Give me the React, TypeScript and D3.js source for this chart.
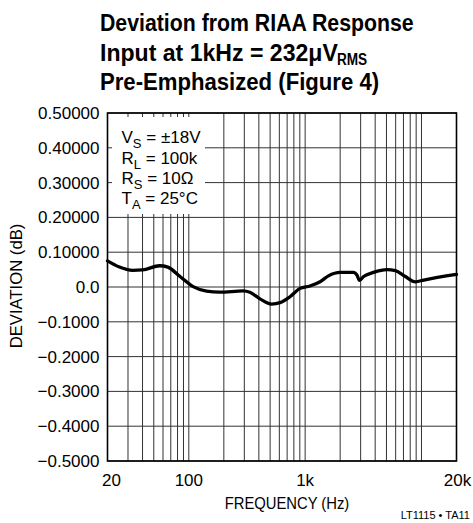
import React from "react";
import * as d3 from "d3";

const FREQS = [20, 25, 33, 40, 56, 66, 84, 109, 142, 185, 293, 335, 409, 515, 608, 741, 904, 1100, 1345, 1586, 2000, 2600, 2790, 2930, 3180, 3870, 5050, 5960, 7260, 8860, 10460, 20000];
const DEVIATION = [0.075, 0.058, 0.048, 0.049, 0.061, 0.057, 0.030, 0.001, -0.012, -0.015, -0.011, -0.015, -0.034, -0.049, -0.045, -0.028, -0.004, 0.003, 0.015, 0.032, 0.042, 0.042, 0.034, 0.019, 0.030, 0.042, 0.050, 0.047, 0.030, 0.015, 0.020, 0.036];

const Y_TICKS = [0.5, 0.4, 0.3, 0.2, 0.1, 0, -0.1, -0.2, -0.3, -0.4, -0.5];
const Y_TICK_LABELS = ["0.50000", "0.40000", "0.30000", "0.20000", "0.10000", "0.0", "\u22120.1000", "\u22120.2000", "\u22120.3000", "\u22120.4000", "\u22120.5000"];
const X_GRID = [30, 40, 50, 60, 70, 80, 90, 100, 200, 300, 400, 500, 600, 700, 800, 900, 1000, 2000, 3000, 4000, 5000, 6000, 7000, 8000, 9000, 10000];
const X_TICKS = [20, 100, 1000, 20000];
const X_TICK_LABELS = ["20", "100", "1k", "20k"];

const FONT = "'Liberation Sans', Arial, Helvetica, sans-serif";

export default function App() {
  const W = 473, H = 523;
  const x = d3.scaleLog().domain([20, 20000]).range([107.5, 456.5]);
  const y = d3.scaleLinear().domain([-0.5, 0.5]).range([461, 113]);
  const [x0, x1] = x.range();
  const [yb, yt] = y.range();
  const data = FREQS.map((f, i) => [f, DEVIATION[i]] as [number, number]);
  const line = d3.line<[number, number]>()
    .x(d => x(d[0]))
    .y(d => y(d[1]))
    .curve(d3.curveMonotoneX);

  return (
    <svg width={W} height={H} style={{ position: "absolute", left: 0, top: 0, background: "#fff" }}>
      <rect x={0} y={0} width={W} height={H} fill="#fff" />
      {/* Title */}
      <g fontFamily={FONT} fontWeight="bold" fontSize={24} fill="#000">
        <text transform="translate(100,31) scale(0.887,1)">Deviation from RIAA Response</text>
        <text transform="translate(100,61) scale(0.962,1)">Input at 1kHz = 232{"\u03bc"}V</text>
        <text transform="translate(337,64.5) scale(0.8,1)" fontSize={17}>RMS</text>
        <text transform="translate(100,90) scale(0.922,1)">Pre-Emphasized (Figure 4)</text>
      </g>
      {/* Grid */}
      <g stroke="#333" strokeWidth={1}>
        {Y_TICKS.map((t, i) => (
          <line key={"h" + i} x1={x0} x2={x1} y1={y(t)} y2={y(t)} />
        ))}
        {X_GRID.map((f, i) => (
          <line key={"v" + i} x1={x(f)} x2={x(f)} y1={yt} y2={yb} />
        ))}
      </g>
      {/* Legend box */}
      <rect x={112} y={117} width={93} height={97} fill="#fff" />
      <g fontFamily={FONT} fontSize={17} fill="#000">
        <text x={121.5} y={143}>V<tspan fontSize={13} dy={5}>S</tspan><tspan dy={-5}> = ±18V</tspan></text>
        <text x={121.5} y={164}>R<tspan fontSize={13} dy={5}>L</tspan><tspan dy={-5}> = 100k</tspan></text>
        <text x={121.5} y={184}>R<tspan fontSize={13} dy={5}>S</tspan><tspan dy={-5}> = 10Ω</tspan></text>
        <text x={121.5} y={204}>T<tspan fontSize={13} dy={5}>A</tspan><tspan dy={-5}> = 25°C</tspan></text>
      </g>
      {/* Frame */}
      <rect x={x0} y={yt} width={x1 - x0} height={yb - yt} fill="none" stroke="#000" strokeWidth={1.6} />
      {/* Curve */}
      <path d={line(data) || ""} fill="none" stroke="#000" strokeWidth={3.3} strokeLinejoin="round" strokeLinecap="round" />
      {/* Y tick labels */}
      <g fontFamily={FONT} fontSize={17} fill="#000" textAnchor="end">
        {Y_TICKS.map((t, i) => (
          <text key={"yl" + i} x={99.5} y={y(t) + 6}>{Y_TICK_LABELS[i]}</text>
        ))}
      </g>
      {/* X tick labels */}
      <g fontFamily={FONT} fontSize={17} fill="#000" textAnchor="middle">
        {X_TICKS.map((f, i) => (
          <text key={"xl" + i} x={x(f) + (i === 0 ? 4 : i === 3 ? 1 : 0)} y={486}>{X_TICK_LABELS[i]}</text>
        ))}
      </g>
      {/* Axis titles */}
      <text transform="translate(287,509) scale(0.87,1)" fontFamily={FONT} fontSize={17} textAnchor="middle">FREQUENCY (Hz)</text>
      <text transform="translate(22,286) rotate(-90) scale(0.98,1)" fontFamily={FONT} fontSize={17} textAnchor="middle">DEVIATION (dB)</text>
      <text x={470} y={519} fontFamily={FONT} fontSize={11} textAnchor="end">LT1115 • TA11</text>
    </svg>
  );
}
